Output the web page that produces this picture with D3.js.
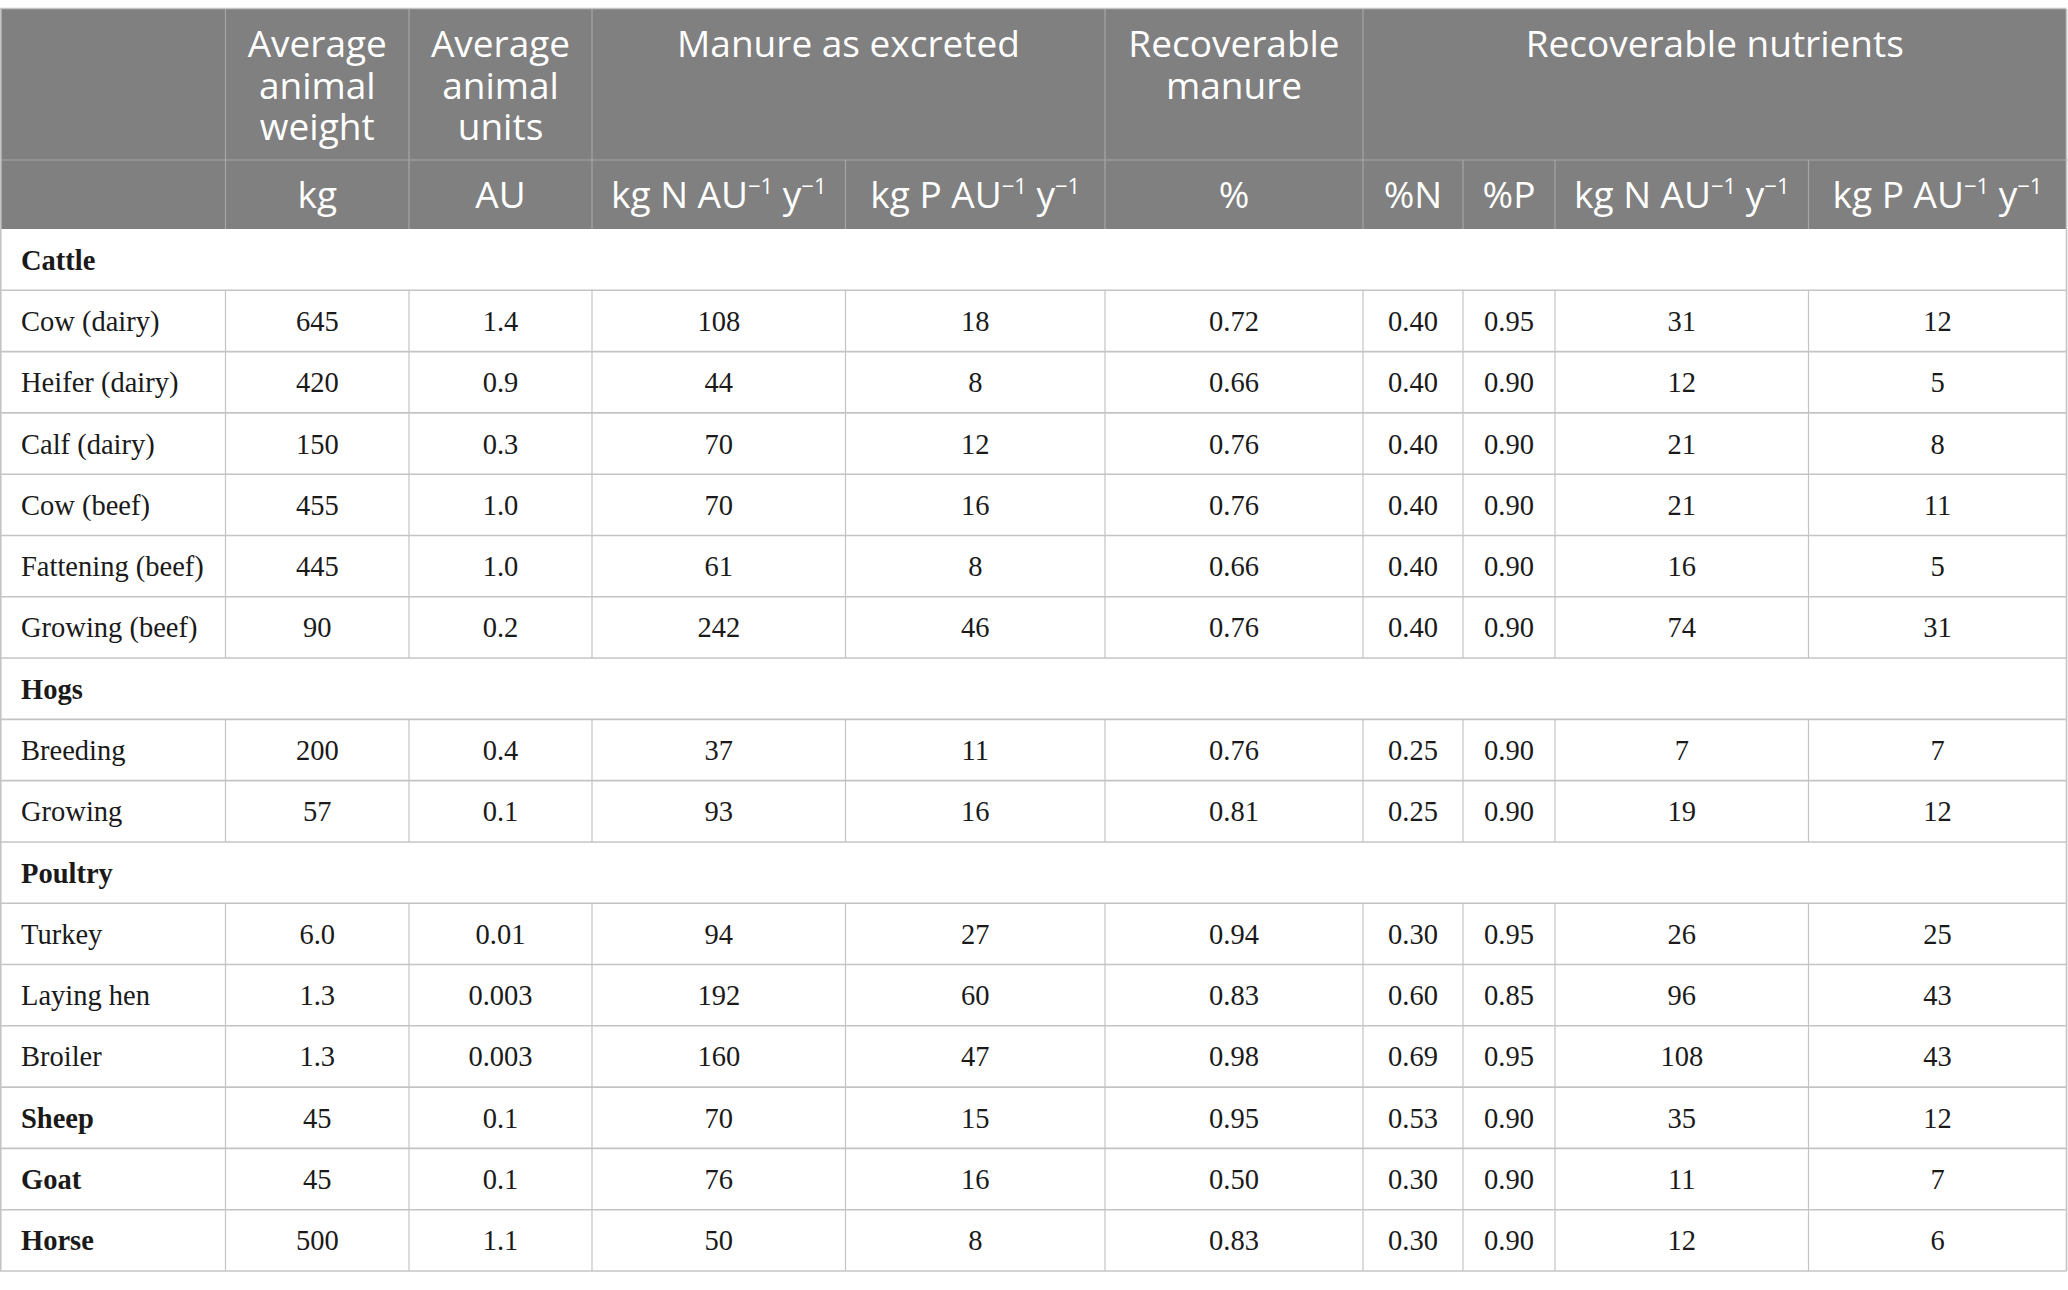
<!DOCTYPE html>
<html>
<head>
	<title>Manure and nutrients table in D3</title>
	<script src="https://d3js.org/d3.v7.min.js"></script>
	<style>
		body { margin: 0; background: #fff; }
		.head { font-family: "Open Sans", sans-serif; font-weight: 400; fill: #fff; }
		.body { font-family: "Liberation Serif", serif; fill: #1a1a1a; }
	</style>
</head>
<body>
	<div id="plot"></div>
	<script type="text/javascript">
		// vars
		var w = 2068, h = 1290;
		var top0 = 9, head1 = 160, head2 = 229, bottom = 1271;

		// column edges (px)
		const colEdges = [0, 225.5, 409, 592, 845.5, 1105, 1363, 1463, 1555, 1808.5, 2066.5];

		// header texts
		const groupHeads = [
			{ text: ["Average", "animal", "weight"], from: 1, to: 1 },
			{ text: ["Average", "animal", "units"], from: 2, to: 2 },
			{ text: ["Manure as excreted"], from: 3, to: 4 },
			{ text: ["Recoverable", "manure"], from: 5, to: 5 },
			{ text: ["Recoverable nutrients"], from: 6, to: 9 }
		];
		const unitHeads = ["", "kg", "AU", "kg N AU|y", "kg P AU|y", "%", "%N", "%P", "kg N AU|y", "kg P AU|y"];

		// rows
		const rowLabels = ["Cattle", "Cow (dairy)", "Heifer (dairy)", "Calf (dairy)", "Cow (beef)", "Fattening (beef)", "Growing (beef)",
			"Hogs", "Breeding", "Growing", "Poultry", "Turkey", "Laying hen", "Broiler", "Sheep", "Goat", "Horse"];
		const groupRows = ["Cattle", "Hogs", "Poultry"];          // label only, spans the row
		const boldRows = ["Cattle", "Hogs", "Poultry", "Sheep", "Goat", "Horse"];

		// values per column (null on group rows)
		const weightKg    = [null, "645", "420", "150", "455", "445", "90", null, "200", "57", null, "6.0", "1.3", "1.3", "45", "45", "500"];
		const animalUnits = [null, "1.4", "0.9", "0.3", "1.0", "1.0", "0.2", null, "0.4", "0.1", null, "0.01", "0.003", "0.003", "0.1", "0.1", "1.1"];
		const excretedN   = [null, "108", "44", "70", "70", "61", "242", null, "37", "93", null, "94", "192", "160", "70", "76", "50"];
		const excretedP   = [null, "18", "8", "12", "16", "8", "46", null, "11", "16", null, "27", "60", "47", "15", "16", "8"];
		const recManure   = [null, "0.72", "0.66", "0.76", "0.76", "0.66", "0.76", null, "0.76", "0.81", null, "0.94", "0.83", "0.98", "0.95", "0.50", "0.83"];
		const pctN        = [null, "0.40", "0.40", "0.40", "0.40", "0.40", "0.40", null, "0.25", "0.25", null, "0.30", "0.60", "0.69", "0.53", "0.30", "0.30"];
		const pctP        = [null, "0.95", "0.90", "0.90", "0.90", "0.90", "0.90", null, "0.90", "0.90", null, "0.95", "0.85", "0.95", "0.90", "0.90", "0.90"];
		const recN        = [null, "31", "12", "21", "21", "16", "74", null, "7", "19", null, "26", "96", "108", "35", "11", "12"];
		const recP        = [null, "12", "5", "8", "11", "5", "31", null, "7", "12", null, "25", "43", "43", "12", "7", "6"];
		const valueCols = [weightKg, animalUnits, excretedN, excretedP, recManure, pctN, pctP, recN, recP];

		// SVG
		var svg = d3.select("#plot").append("svg")
			.attr("width", w).attr("height", h);

		// scales
		var yScale = d3.scaleBand()
			.domain(d3.range(rowLabels.length))
			.range([head2, bottom]);
		var xLeft = function(i) { return colEdges[i]; };
		var xMid = function(i) { return (colEdges[i] + colEdges[i + 1]) / 2; };

		// header background
		svg.append("rect")
			.attr("x", 0).attr("y", top0)
			.attr("width", colEdges[colEdges.length - 1]).attr("height", head2 - top0)
			.attr("fill", "#7f807f");

		// header lines
		var hl = svg.append("g").attr("stroke", "#a5a6a5").attr("stroke-width", 1.2);
		hl.append("line").attr("x1", 0).attr("x2", w).attr("y1", head1).attr("y2", head1);
		// vertical lines in upper header row: group edges
		var upperEdges = [1, 2, 3, 5, 6];
		hl.selectAll(".up").data(upperEdges).enter().append("line")
			.attr("x1", xLeft).attr("x2", xLeft)
			.attr("y1", top0).attr("y2", head1);
		hl.selectAll(".low").data(d3.range(1, 10)).enter().append("line")
			.attr("x1", xLeft).attr("x2", xLeft)
			.attr("y1", head1).attr("y2", head2);

		// upper header text, one text per line
		var headLines = [];
		groupHeads.forEach(function(g) {
			g.text.forEach(function(t, k) {
				headLines.push({ t: t, x: (colEdges[g.from] + colEdges[g.to + 1]) / 2, y: 57 + k * 41.5 });
			});
		});
		svg.selectAll(".gh").data(headLines).enter().append("text")
			.attr("class", "head")
			.attr("text-anchor", "middle")
			.attr("font-size", 37)
			.attr("x", function(d) { return d.x; })
			.attr("y", function(d) { return d.y; })
			.text(function(d) { return d.t; });

		// lower header text (units)
		var uh = svg.selectAll(".uh").data(unitHeads).enter().append("text")
			.attr("class", "head")
			.attr("text-anchor", "middle")
			.attr("font-size", 37)
			.attr("x", function(d, i) { return xMid(i); })
			.attr("y", 208);
		uh.each(function(d) {
			var t = d3.select(this);
			if (d.indexOf("|") < 0) { t.text(d); return; }
			var parts = d.split("|");
			t.append("tspan").text(parts[0]);
			t.append("tspan").attr("font-size", 22).attr("dy", -14).text("\u22121");
			t.append("tspan").attr("dy", 14).text(" " + parts[1]);
			t.append("tspan").attr("font-size", 22).attr("dy", -14).text("\u22121");
		});

		// body grid
		var grid = svg.append("g").attr("stroke", "#c4c4c4").attr("stroke-width", 1.6);
		grid.selectAll(".hr").data(d3.range(rowLabels.length)).enter().append("line")
			.attr("x1", 0).attr("x2", colEdges[colEdges.length - 1])
			.attr("y1", function(i) { return yScale(i) + yScale.bandwidth(); })
			.attr("y2", function(i) { return yScale(i) + yScale.bandwidth(); });
		grid.append("line").attr("x1", 0).attr("x2", colEdges[colEdges.length - 1]).attr("y1", top0 - 0.5).attr("y2", top0 - 0.5);
		grid.append("line").attr("x1", 0.8).attr("x2", 0.8).attr("y1", top0).attr("y2", bottom);
		grid.append("line").attr("x1", colEdges[10]).attr("x2", colEdges[10]).attr("y1", top0).attr("y2", bottom);

		var dataRows = d3.range(rowLabels.length).filter(function(i) { return groupRows.indexOf(rowLabels[i]) < 0; });
		dataRows.forEach(function(r) {
			grid.selectAll(".v" + r).data(d3.range(1, 10)).enter().append("line")
				.attr("stroke-width", 1.2)
				.attr("x1", xLeft).attr("x2", xLeft)
				.attr("y1", yScale(r)).attr("y2", yScale(r) + yScale.bandwidth());
		});

		// row labels
		svg.selectAll(".lab").data(rowLabels).enter().append("text")
			.attr("class", "body")
			.attr("font-size", 28.5)
			.attr("font-weight", function(d) { return boldRows.indexOf(d) >= 0 ? "bold" : "normal"; })
			.attr("x", 21)
			.attr("y", function(d, i) { return yScale(i) + yScale.bandwidth() / 2 + 10; })
			.text(function(d) { return d; });

		// values
		valueCols.forEach(function(col, c) {
			svg.selectAll(".c" + c).data(col).enter().append("text")
				.attr("class", "body")
				.attr("font-size", 28.5)
				.attr("text-anchor", "middle")
				.attr("x", xMid(c + 1))
				.attr("y", function(d, i) { return yScale(i) + yScale.bandwidth() / 2 + 10; })
				.text(function(d) { return d == null ? "" : d; });
		});
	</script>
</body>
</html>
